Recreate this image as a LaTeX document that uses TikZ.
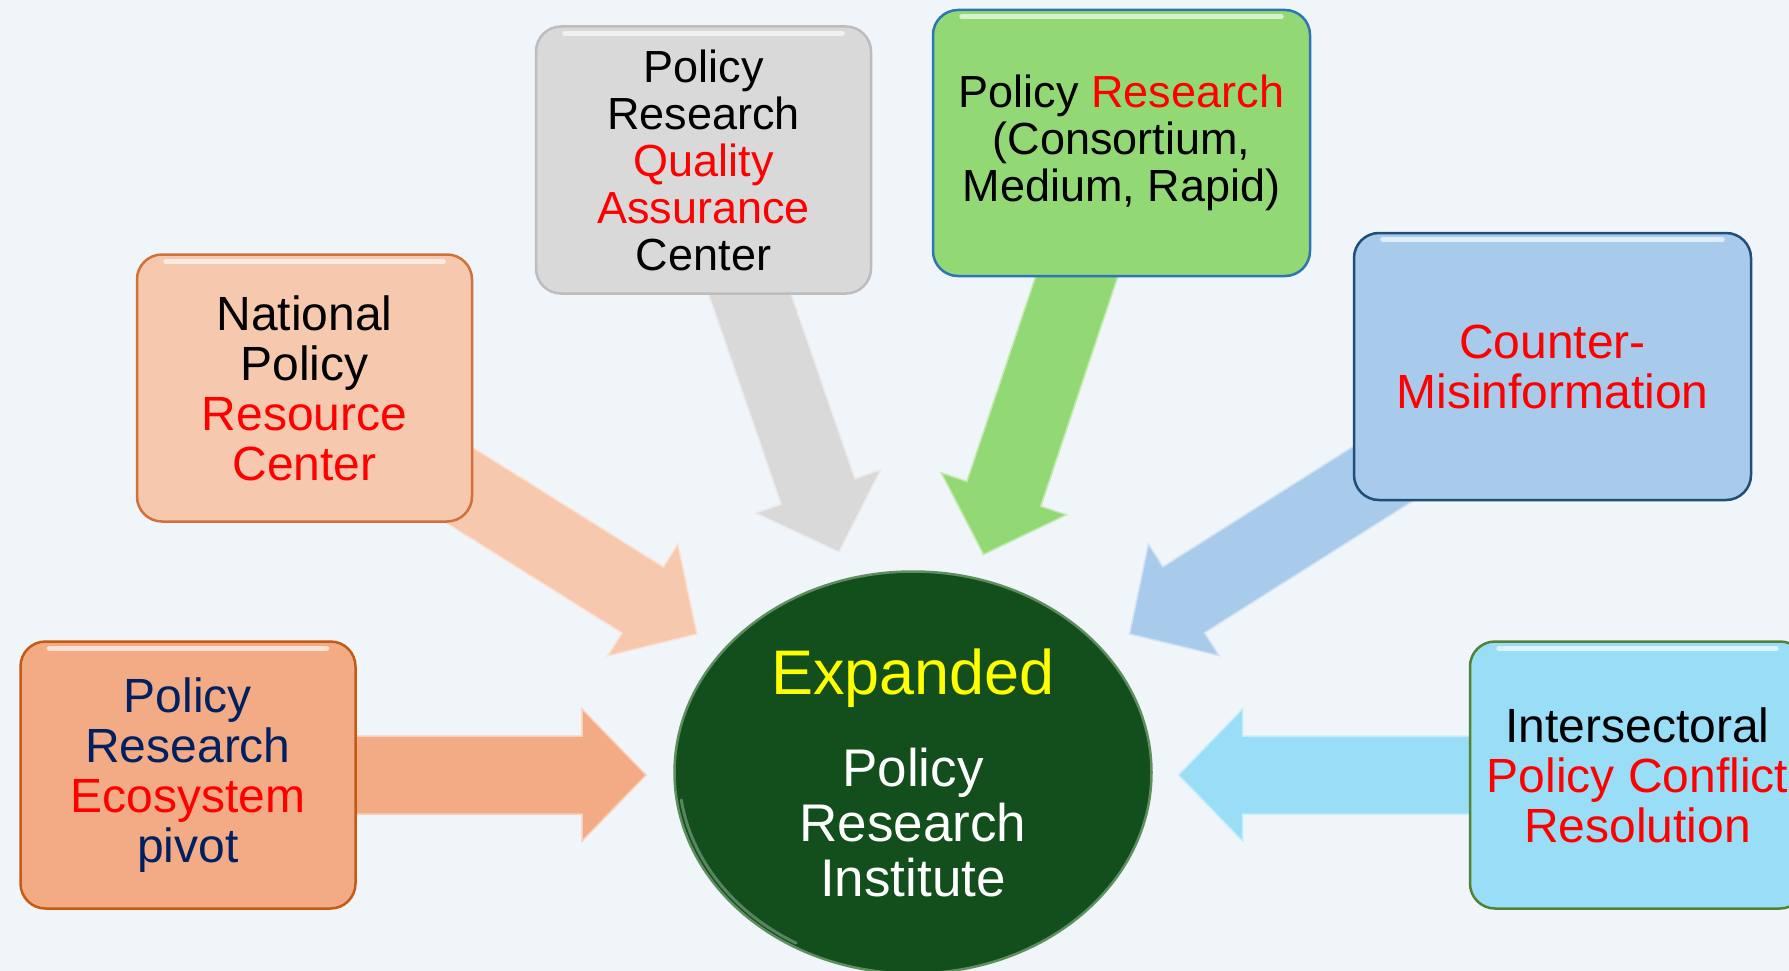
\documentclass[tikz,border=0pt]{standalone}
\usepackage{fontspec}
\setmainfont{Liberation Sans}
\usetikzlibrary{calc,shapes.geometric}
\definecolor{bg}{HTML}{F0F5FA}
\definecolor{fillA}{HTML}{F2AB84}
\definecolor{fillB}{HTML}{F6C8AE}
\definecolor{fillC}{HTML}{D9D9D9}
\definecolor{fillD}{HTML}{92D975}
\definecolor{fillE}{HTML}{A9CBEB}
\definecolor{fillF}{HTML}{99DDF7}
\definecolor{lineA}{HTML}{C55A11}
\definecolor{lineB}{HTML}{D2703A}
\definecolor{lineC}{HTML}{BDBDBD}
\definecolor{lineD}{HTML}{2E75B6}
\definecolor{lineE}{HTML}{1F4E79}
\definecolor{lineF}{HTML}{548235}
\definecolor{navy}{HTML}{002060}
\definecolor{egreen}{HTML}{134F1C}
\definecolor{erim}{HTML}{5E8E60}
\definecolor{pyellow}{HTML}{FFFF00}
\definecolor{pred}{HTML}{FF0000}
\pgfdeclarelayer{bglayer}
\pgfdeclarelayer{arrowlayer}
\pgfsetlayers{bglayer,arrowlayer,main}
\newcommand\blockarrow[3]{%
  \coordinate (hb) at ($(#3)!64pt!(#2)$);
  \filldraw[#1] ($(#2)!39pt!90:(#3)$) -- ($(hb)!39pt!90:(#3)$) -- ($(hb)!66pt!90:(#3)$)
    -- (#3) -- ($(hb)!66pt!-90:(#3)$) -- ($(hb)!39pt!-90:(#3)$) -- ($(#2)!39pt!-90:(#3)$) -- cycle;
}
\begin{document}
\begin{tikzpicture}[x=1pt,y=-1pt,
  box/.style={rounded corners=25pt, line width=2.5pt, align=center, inner sep=0pt,
    minimum width=335pt, minimum height=267pt},
  bigfont/.style={font=\fontsize{48}{50}\selectfont},
  smallfont/.style={font=\fontsize{45}{47}\selectfont},
  arr/.style={fill=#1, draw=#1!55!white, line width=1.5pt, line join=miter},
  shine/.style={white, opacity=0.65, line width=5pt, line cap=round}
  ]
\useasboundingbox (0,0) rectangle (1789,971);
\begin{pgfonlayer}{bglayer}
\fill[bg] (0,0) rectangle (1789,971);
\end{pgfonlayer}
\clip (0,0) rectangle (1789,971);

% boxes
\node[box, bigfont, fill=fillA, draw=lineA, text=navy] (b1) at (188,775)
  {Policy\\Research\\\textcolor{pred}{Ecosystem}\\pivot};
\node[box, bigfont, fill=fillB, draw=lineB] (b2) at (304.5,388)
  {National\\Policy\\\textcolor{pred}{Resource}\\\textcolor{pred}{Center}};
\node[box, smallfont, fill=fillC, draw=lineC] (b3) at (703.5,160)
  {Policy\\Research\\\textcolor{pred}{Quality}\\\textcolor{pred}{Assurance}\\Center};
\node[box, smallfont, fill=fillD, draw=lineD, minimum width=377pt, minimum height=266pt] (b4) at (1121.5,143)
  {Policy \textcolor{pred}{Research}\\(Consortium,\\Medium, Rapid)};
\node[box, bigfont, fill=fillE, draw=lineE, minimum width=397pt] (b5) at (1552.5,366.5)
  {\textcolor{pred}{Counter-}\\\textcolor{pred}{Misinformation}};
\node[box, bigfont, fill=fillF, draw=lineF] (b6) at (1637.5,775)
  {Intersectoral\\\textcolor{pred}{Policy Conflict}\\\textcolor{pred}{Resolution}};

% highlights
\foreach \b in {b1,b2,b3,b4,b5,b6}{
  \draw[shine] ([xshift=30pt,yshift=-8pt]\b.north west) -- ([xshift=-30pt,yshift=-8pt]\b.north east);
}

% central ellipse
\node[ellipse, fill=egreen, draw=erim, line width=2.5pt, minimum width=477pt, minimum height=402pt,
  inner sep=0pt, align=center, text=white, font=\fontsize{53}{55}\selectfont] (e) at (913,772.5)
  {{\fontsize{63}{55}\selectfont\textcolor{pyellow}{Expanded}}\\[37pt]Policy\\Research\\Institute};
\draw[white, opacity=0.3, line width=3pt, line cap=round]
  (e.center) ++(188:234pt and 197pt) arc[start angle=188, end angle=240, x radius=234pt, y radius=197pt];

% arrow tips
\coordinate (t1) at (646,775);
\coordinate (t2) at (697,634);
\coordinate (t3) at (839,552);
\coordinate (t4) at (983.5,554.5);
\coordinate (t5) at (1129.6,634);
\coordinate (t6) at (1178.6,775);

\begin{pgfonlayer}{arrowlayer}
\blockarrow{arr=fillA}{b1.center}{t1}
\blockarrow{arr=fillB}{b2.center}{t2}
\blockarrow{arr=fillC}{b3.center}{t3}
\blockarrow{arr=fillD}{b4.center}{t4}
\blockarrow{arr=fillE}{b5.center}{t5}
\blockarrow{arr=fillF}{b6.center}{t6}
\end{pgfonlayer}
\end{tikzpicture}
\end{document}
